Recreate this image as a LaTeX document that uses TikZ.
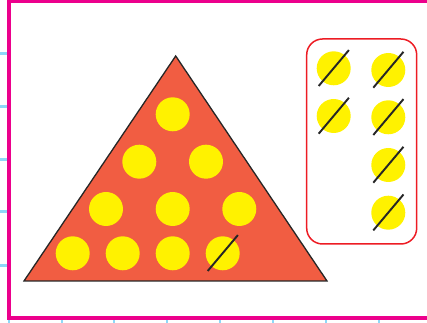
\documentclass[tikz,border=0pt]{standalone}
\usepackage{tikz}
\usepackage{xcolor}
\definecolor{board}{HTML}{F15D42}
\definecolor{dot}{HTML}{FFF200}
\definecolor{edge}{HTML}{EC008C}
\definecolor{boxred}{HTML}{ED1C24}
\definecolor{gridblue}{HTML}{8ED8F8}

\tikzset{
  dot/.style={circle, fill=dot, minimum size=0.68cm, inner sep=0pt},
  slash/.style={line width=1.1pt, draw=black!85}
}

\begin{document}
\begin{tikzpicture}[x=0.02cm, y=-0.02cm]
    \useasboundingbox (0,0) rectangle (427,323);
    % grid ticks and page edge
    \foreach \y in {54,107,160,212,266}
      \draw[gridblue, line width=1.7pt] (0,\y) -- (7,\y);
    \foreach \x in {9,62,114,167,220,273,326,379}
      \draw[gridblue, line width=1.7pt] (\x,319) -- (\x,323);
    \draw[edge, line width=2pt] (430,1.5) -- (9,1.5) -- (9,318) -- (430,318);

    % the triangle of counters
    \draw[fill=board, line width=0.75pt, draw=black!85] (175.7,56) -- (327,281) -- (24,281) -- cycle;
    \node[dot] (t1) at (172.7,114.3) {};
    \node[dot] (t2) at (139.3,161.7) {};
    \node[dot] (t3) at (206,161.7) {};
    \node[dot] (t4) at (106,209) {};
    \node[dot] (t5) at (172.7,209) {};
    \node[dot] (t6) at (239.3,209) {};
    \node[dot] (t7) at (72.7,253.3) {};
    \node[dot] (t8) at (122.7,253.3) {};
    \node[dot] (t9) at (172.7,253.3) {};
    \node[dot] (t10) at (222.7,253.3) {};

    % counters taken away
    \draw[boxred, line width=0.85pt, rounded corners=9] (306.7,39) rectangle (416.7,244);
    \node[dot] (a1) at (333.7,68.3) {};
    \node[dot] (a2) at (333.7,116) {};
    \node[dot] (b1) at (388.3,70) {};
    \node[dot] (b2) at (388.3,117.3) {};
    \node[dot] (b3) at (388.3,165) {};
    \node[dot] (b4) at (388.3,212.7) {};

    \foreach \n in {t10,a1,a2,b1,b2,b3,b4}
      \draw[slash] ([shift={(-15,17.7)}]\n.center) -- ([shift={(15.2,-18.2)}]\n.center);
  \end{tikzpicture}
\end{document}
